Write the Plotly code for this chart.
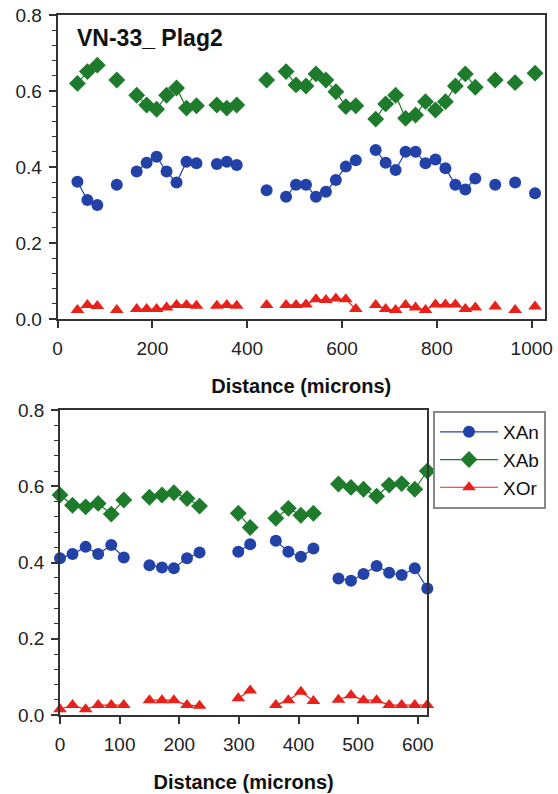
import plotly.graph_objects as go

# ---------------- data: top panel (VN-33_ Plag2) ----------------
top_x = [42, 63, 84, 125, 167, 188, 209, 230, 251, 272, 293, 336, 357, 378,
         441, 482, 503, 524, 545, 566, 587, 608, 629, 671, 692, 713, 734, 755,
         776, 797, 818, 839, 860, 881, 923, 965, 1007]
top_xan = [0.361, 0.313, 0.300, 0.353, 0.388, 0.411, 0.427, 0.388, 0.359, 0.414,
           0.410, 0.408, 0.414, 0.405, 0.339, 0.322, 0.353, 0.353, 0.322, 0.335,
           0.366, 0.401, 0.418, 0.445, 0.411, 0.392, 0.440, 0.440, 0.410, 0.420,
           0.397, 0.353, 0.341, 0.370, 0.353, 0.359, 0.331]
top_xab = [0.620, 0.651, 0.668, 0.629, 0.589, 0.563, 0.552, 0.589, 0.608, 0.555,
           0.561, 0.563, 0.555, 0.563, 0.629, 0.651, 0.616, 0.613, 0.645, 0.629,
           0.598, 0.559, 0.561, 0.526, 0.566, 0.589, 0.528, 0.537, 0.572, 0.550,
           0.572, 0.613, 0.645, 0.610, 0.629, 0.622, 0.647]
top_xor = [0.024, 0.037, 0.034, 0.024, 0.026, 0.026, 0.026, 0.030, 0.037, 0.037,
           0.035, 0.035, 0.037, 0.035, 0.037, 0.037, 0.037, 0.038, 0.052, 0.050,
           0.054, 0.052, 0.026, 0.037, 0.026, 0.024, 0.037, 0.030, 0.024, 0.038,
           0.038, 0.038, 0.026, 0.030, 0.033, 0.024, 0.033]

# ---------------- data: bottom panel ----------------
bot_x = [0, 21, 43, 64, 86, 107, 150, 171, 191, 213, 234, 299, 319, 362, 383,
         404, 425, 467, 488, 509, 531, 552, 573, 595, 616]
bot_xan = [0.411, 0.422, 0.441, 0.422, 0.446, 0.413, 0.393, 0.387, 0.385, 0.411,
           0.426, 0.428, 0.448, 0.457, 0.428, 0.415, 0.437, 0.358, 0.352, 0.370,
           0.391, 0.373, 0.367, 0.385, 0.332]
bot_xab = [0.577, 0.550, 0.546, 0.555, 0.527, 0.564, 0.571, 0.577, 0.583, 0.568,
           0.548, 0.529, 0.492, 0.516, 0.542, 0.524, 0.529, 0.606, 0.597, 0.592,
           0.574, 0.603, 0.607, 0.592, 0.640]
bot_xor = [0.015, 0.026, 0.015, 0.026, 0.026, 0.026, 0.039, 0.039, 0.039, 0.026,
           0.024, 0.044, 0.064, 0.026, 0.039, 0.061, 0.037, 0.040, 0.052, 0.039,
           0.039, 0.026, 0.026, 0.026, 0.026]

series_names = ["XAn", "XAb", "XOr"]
colors = ["#2342A8", "#1E7B2C", "#E8221B"]
symbols = ["circle", "diamond", "triangle-up"]
sizes = [12, 13, 12]
GAP = 30  # measurements farther apart than this are not joined by a line

W, H = 558, 794


def fx(px):
    return px / W


def fy(py):
    return 1 - py / H


def with_gaps(xs, ys):
    gx, gy = [], []
    for i, (a, b) in enumerate(zip(xs, ys)):
        if i > 0 and a - xs[i - 1] > GAP:
            gx.append(None)
            gy.append(None)
        gx.append(a)
        gy.append(b)
    return gx, gy


fig = go.Figure()

panels = [
    (top_x, [top_xan, top_xab, top_xor], "x", "y", False),
    (bot_x, [bot_xan, bot_xab, bot_xor], "x2", "y2", True),
]
for xs, ylist, xa, ya, show in panels:
    for k, ys in enumerate(ylist):
        gx, gy = with_gaps(xs, ys)
        fig.add_trace(go.Scatter(
            x=gx, y=gy, mode="lines+markers", name=series_names[k],
            xaxis=xa, yaxis=ya, showlegend=show, cliponaxis=False,
            connectgaps=False,
            line=dict(color=colors[k], width=1.2),
            marker=dict(symbol=symbols[k], size=sizes[k], color=colors[k],
                        line=dict(width=0)),
        ))

FONT = "Liberation Sans, Arial"
axis_common = dict(
    showgrid=False, zeroline=False, showline=True, linecolor="#333333",
    linewidth=1.5, mirror=True, ticks="outside", tickcolor="#333333",
    tickwidth=1.5, ticklen=7, automargin=False, ticklabeloverflow="allow",
    tickfont=dict(family=FONT, size=19, color="#222222"),
)
title_font = dict(family=FONT, size=20, color="#111111")
minor_y = dict(dtick=0.04, ticks="outside", ticklen=4, tickcolor="#333333", tickwidth=1.2)

fig.update_layout(
    template="none",
    width=W, height=H,
    margin=dict(l=0, r=0, t=0, b=0, autoexpand=False),
    paper_bgcolor="white", plot_bgcolor="white",
    font=dict(family=FONT, size=18, color="#222222"),
    xaxis=dict(domain=[fx(57.5), fx(545)], range=[0, 1028], tickvals=[0, 200, 400, 600, 800, 1000],
               anchor="y", ticklabelstandoff=4,
               title=dict(text="<b>Distance (microns)</b>", font=title_font, standoff=21),
               **axis_common),
    yaxis=dict(domain=[fy(319), fy(15)], range=[0, 0.8], tickvals=[0, 0.2, 0.4, 0.6, 0.8],
               tickformat=".1f", anchor="x", ticklabelstandoff=3, minor=minor_y,
               **axis_common),
    xaxis2=dict(domain=[fx(60), fx(427.3)], range=[0, 616], tickvals=[0, 100, 200, 300, 400, 500, 600],
                anchor="y2", ticklabelstandoff=4,
                title=dict(text="<b>Distance (microns)</b>", font=title_font, standoff=21),
                **axis_common),
    yaxis2=dict(domain=[fy(715), fy(410)], range=[0, 0.8], tickvals=[0, 0.2, 0.4, 0.6, 0.8],
                tickformat=".1f", anchor="x2", ticklabelstandoff=3, minor=minor_y,
                **axis_common),
    legend=dict(x=fx(433), y=fy(411), xanchor="left", yanchor="top",
                bordercolor="#888888", borderwidth=2, bgcolor="white",
                font=dict(family=FONT, size=19, color="#111111"),
                itemwidth=58, tracegroupgap=0),
    annotations=[dict(
        text="<b>VN-33_ Plag2</b>", xref="paper", yref="paper",
        x=fx(75), y=fy(38), xanchor="left", yanchor="middle",
        showarrow=False, font=dict(family=FONT, size=23, color="#111111"),
    )],
)

# remove the browser's default 8px page margin so the figure fills the window
fig.write_html("out.html", config={"displayModeBar": False},
               post_script="document.body.style.margin='0';")
